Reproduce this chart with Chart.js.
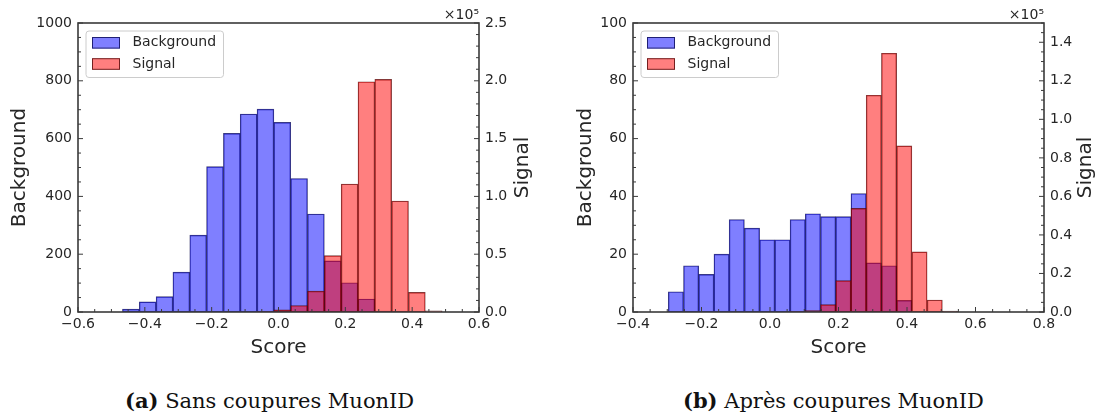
<!DOCTYPE html>
<html>
<head>
<meta charset="utf-8">
<script src="https://cdn.jsdelivr.net/npm/chart.js@4"></script>
<style>
  html,body{margin:0;padding:0;background:#fff;}
  body{width:1104px;height:416px;position:relative;overflow:hidden;}
  .box{position:absolute;top:0;width:552px;height:362px;}
  .cap{position:absolute;top:389px;font-family:"DejaVu Serif",serif;font-size:21px;line-height:24px;color:#111;white-space:nowrap;}
</style>
</head>
<body>
<div class="box" style="left:0"><canvas id="chart-a"></canvas></div>
<div class="box" style="left:552px"><canvas id="chart-b"></canvas></div>
<div class="cap" style="left:125px"><b>(a)</b> Sans coupures MuonID</div>
<div class="cap" style="left:683px"><b>(b)</b> Après coupures MuonID</div>
<script>
/* (a) Sans coupures MuonID : centres des bins + comptes */
const binsA = [-0.4418, -0.3915, -0.3411, -0.2908, -0.2404, -0.1901, -0.1397, -0.0894, -0.0390, 0.0113,
               0.0617, 0.1120, 0.1624, 0.2127, 0.2631, 0.3134, 0.3638, 0.4141, 0.4645];
const bgA   = [10, 35, 53, 138, 266, 503, 618, 685, 702, 656, 462, 339, 177, 101, 45, 3, 1, 0, 0];
const sigA  = [0, 0, 0, 0, 0, 0, 0, 0, 300, 1800, 5600, 18000, 48700, 110700, 199200, 201200, 96000, 17000, 1000];
const xTicksA   = [-0.6, -0.4, -0.2, 0, 0.2, 0.4, 0.6];
const bgTicksA  = [0, 200, 400, 600, 800, 1000];
const sigTicksA = [0, 0.5, 1.0, 1.5, 2.0, 2.5];          // ×10^5

/* (b) Après coupures MuonID */
const binsB = [-0.2748, -0.2303, -0.1859, -0.1414, -0.0970, -0.0525, -0.0081, 0.0364, 0.0809, 0.1253,
               0.1698, 0.2142, 0.2587, 0.3031, 0.3476, 0.3920, 0.4365, 0.4810, 0.5254];
const bgB   = [7, 16, 13, 20, 32, 29, 25, 25, 32, 34, 33, 33, 41, 17, 16, 4, 0, 0, 0];
const sigB  = [0, 0, 0, 0, 0, 0, 0, 0, 200, 800, 3800, 16300, 53800, 112500, 134300, 86200, 31200, 6200, 500];
const xTicksB   = [-0.4, -0.2, 0, 0.2, 0.4, 0.6, 0.8];
const bgTicksB  = [0, 20, 40, 60, 80, 100];
const sigTicksB = [0, 0.2, 0.4, 0.6, 0.8, 1.0, 1.2, 1.4]; // ×10^5

const FONT  = "'DejaVu Sans', sans-serif";
const INK   = "#262626";
const SPINE = "#3a3a3a";
const BLUE  = "rgba(0,0,255,0.5)", RED = "rgba(255,0,0,0.5)";
const fmt = (v, d) => (Math.abs(v) < 1e-9 ? 0 : v).toFixed(d).replace("-", "\u2212");
const setTicks = (arr, k = 1) => s => { s.ticks = arr.map(v => ({value: v * k})); };

// cadre, ticks internes (majeurs + mineurs), légende, titre "Signal", ×10^5
const mplAxes = {
  id: "mplAxes",
  afterDraw(chart, args, o) {
    const {ctx, chartArea: a, scales} = chart;
    ctx.save();
    ctx.strokeStyle = SPINE;
    ctx.lineWidth = 1;
    const ticks = (scale, side, minor) => {
      const n = Math.round((scale.max - scale.min) / minor);
      for (let i = 0; i <= n; i++) {
        const v = scale.min + i * minor;
        const major = scale.ticks.some(t => Math.abs(t.value - v) < minor / 10);
        const len = major ? 5 : 3;
        const p = scale.getPixelForValue(v);
        ctx.beginPath();
        if (side === "bottom") { ctx.moveTo(p, a.bottom); ctx.lineTo(p, a.bottom - len); }
        if (side === "left")   { ctx.moveTo(a.left, p);   ctx.lineTo(a.left + len, p); }
        if (side === "right")  { ctx.moveTo(a.right, p);  ctx.lineTo(a.right - len, p); }
        ctx.stroke();
      }
    };
    ticks(scales.x, "bottom", o.xMinor);
    ticks(scales.yBg, "left", o.bgMinor);
    ticks(scales.ySig, "right", o.sigMinor);

    ctx.lineWidth = 1.6;
    ctx.strokeRect(a.left, a.top, a.right - a.left, a.bottom - a.top);

    // légende
    const lx = a.left + 8, ly = a.top + 8;
    ctx.beginPath();
    ctx.roundRect(lx, ly, 137.5, 46.5, 3);
    ctx.fillStyle = "rgba(255,255,255,0.8)";
    ctx.fill();
    ctx.strokeStyle = "#cccccc";
    ctx.lineWidth = 1;
    ctx.stroke();
    ctx.font = `14px ${FONT}`;
    ctx.textAlign = "left";
    ctx.textBaseline = "middle";
    chart.data.datasets.forEach((ds, i) => {
      const cy = a.top + 19.8 + i * 21.2;
      ctx.fillStyle = ds.backgroundColor;
      ctx.fillRect(a.left + 14, cy - 5.8, 28, 11.6);
      ctx.strokeStyle = ds.borderColor;
      ctx.strokeRect(a.left + 14.5, cy - 5.3, 27, 10.6);
      ctx.fillStyle = INK;
      ctx.fillText(ds.label, a.left + 54.5, cy);
    });

    // ×10^5
    ctx.textAlign = "right";
    ctx.textBaseline = "alphabetic";
    ctx.fillText("\u00d710\u2075", a.right, a.top - 4.5);

    // titre axe droit, lu de bas en haut
    ctx.translate(a.right + o.sigTitleDx, (a.top + a.bottom) / 2);
    ctx.rotate(-Math.PI / 2);
    ctx.font = `20px ${FONT}`;
    ctx.textAlign = "center";
    ctx.textBaseline = "middle";
    ctx.fillText("Signal", 0, 0);
    ctx.restore();
  },
};

function histogram(id, bins, bg, sig, o) {
  const el = document.getElementById(id);
  const tickFont = {family: FONT, size: 14};
  return new Chart(el, {
    type: "bar",
    data: {
      datasets: [
        { label: "Background", data: bins.map((x, i) => ({x, y: bg[i]})), yAxisID: "yBg", order: 1,
          backgroundColor: BLUE, borderColor: "rgba(0,0,70,0.75)", borderWidth: 0.7, borderSkipped: false },
        { label: "Signal", data: bins.map((x, i) => ({x, y: sig[i]})), yAxisID: "ySig", order: 0,
          backgroundColor: RED, borderColor: "rgba(70,0,0,0.75)", borderWidth: 0.7, borderSkipped: false },
      ],
    },
    options: {
      responsive: true, maintainAspectRatio: false, animation: false,
      layout: { padding: { top: 23, left: 0, right: 0, bottom: 0 } },
      datasets: { bar: { grouped: false, barPercentage: 1, categoryPercentage: 1 } },
      plugins: {
        legend: { display: false }, tooltip: { enabled: false },
        mplAxes: { xMinor: 0.05, bgMinor: o.bgMinor, sigMinor: o.sigMinor, sigTitleDx: o.sigTitleDx },
      },
      scales: {
        x: {
          type: "linear", min: o.xMin, max: o.xMax, offset: false,
          grid: { display: false, drawTicks: false }, border: { display: false },
          afterBuildTicks: setTicks(o.xTicks),
          ticks: { autoSkip: false, maxRotation: 0, padding: 4, color: INK, font: tickFont,
                   callback: v => fmt(v, 1) },
          title: { display: true, text: "Score", color: INK, font: {family: FONT, size: 20}, padding: {top: 0, bottom: 2} },
          afterFit: s => { s.height = 50; },
        },
        yBg: {
          type: "linear", position: "left", min: 0, max: o.bgMax,
          grid: { display: false, drawTicks: false }, border: { display: false },
          afterBuildTicks: setTicks(o.bgTicks),
          ticks: { autoSkip: false, padding: 6, color: INK, font: tickFont, callback: v => String(v) },
          title: { display: true, text: "Background", color: INK, font: {family: FONT, size: 20}, padding: {top: o.titlePad, bottom: 0} },
          afterFit: s => { s.width = o.leftW; },
        },
        ySig: {
          type: "linear", position: "right", min: 0, max: o.sigMax,
          grid: { display: false, drawTicks: false }, border: { display: false },
          afterBuildTicks: setTicks(o.sigTicks, 1e5),
          ticks: { autoSkip: false, padding: 6, color: INK, font: tickFont, callback: v => fmt(v / 1e5, 1) },
          afterFit: s => { s.width = o.rightW; },
        },
      },
    },
    plugins: [mplAxes],
  });
}

histogram("chart-a", binsA, bgA, sigA, {
  xMin: -0.6, xMax: 0.6, xTicks: xTicksA,
  bgMax: 1000, bgTicks: bgTicksA, bgMinor: 50,
  sigMax: 250000, sigTicks: sigTicksA, sigMinor: 10000,
  leftW: 78, rightW: 73, titlePad: 8, sigTitleDx: 44,
});
histogram("chart-b", binsB, bgB, sigB, {
  xMin: -0.4, xMax: 0.8, xTicks: xTicksB,
  bgMax: 100, bgTicks: bgTicksB, bgMinor: 5,
  sigMax: 150000, sigTicks: sigTicksB, sigMinor: 5000,
  leftW: 81, rightW: 60, titlePad: 22, sigTitleDx: 42,
});
</script>
</body>
</html>
